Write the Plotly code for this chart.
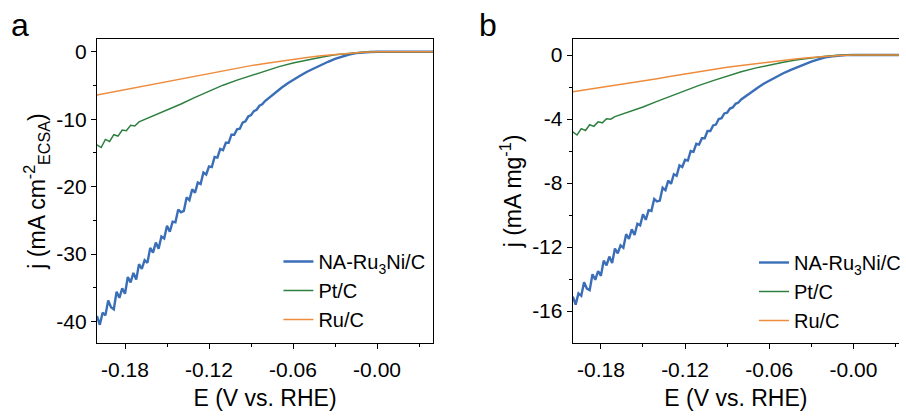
import plotly.graph_objects as go

# ---------------- data ----------------
names = ["NA-Ru<sub>3</sub>Ni/C", "Pt/C", "Ru/C"]
colors = ["#3a6fb8", "#2e8040", "#ee8c3e"]

# Blue (NA-Ru3Ni/C): noisy region then smooth tail
E_blue = [-0.200, -0.198, -0.196, -0.194, -0.192, -0.190, -0.188, -0.186, -0.184, -0.182,
          -0.180, -0.178, -0.176, -0.174, -0.172, -0.170, -0.168, -0.166, -0.164, -0.162,
          -0.160, -0.158, -0.156, -0.154, -0.152, -0.150, -0.148, -0.146, -0.144, -0.142,
          -0.140, -0.138, -0.136, -0.134, -0.132, -0.130, -0.128, -0.126, -0.124, -0.122,
          -0.120, -0.118, -0.116, -0.114, -0.112, -0.110, -0.108, -0.106, -0.104, -0.102,
          -0.100, -0.098, -0.096, -0.094, -0.092, -0.090, -0.088, -0.086, -0.084, -0.082,
          -0.080, -0.076, -0.072, -0.068, -0.064, -0.060, -0.055, -0.050, -0.045, -0.040,
          -0.035, -0.030, -0.025, -0.020, -0.015, -0.010, -0.005, 0.000, 0.01, 0.02, 0.03, 0.04]
ja_blue = [-39.2, -40.5, -38.7, -39.1, -36.9, -37.9, -38.2, -35.6, -36.5, -35.1,
           -35.9, -33.4, -34.2, -32.8, -33.8, -31.5, -32.2, -30.9, -31.3, -29.1,
           -29.8, -28.3, -29.2, -27.4, -27.7, -25.8, -26.7, -25.2, -25.3, -23.4,
           -23.8, -23.6, -21.6, -22.0, -20.4, -20.9, -19.4, -19.6, -17.9, -18.2,
           -17.0, -17.1, -15.6, -15.7, -14.4, -14.6, -13.5, -13.5, -12.3, -12.3,
           -11.5, -11.4, -10.5, -10.3, -9.6, -9.4, -8.8, -8.6, -8.0, -7.8,
           -7.3, -6.6, -5.95, -5.3, -4.7, -4.15, -3.55, -2.95, -2.43, -1.95,
           -1.48, -1.05, -0.7, -0.4, -0.2, -0.07, -0.02, 0.0, 0.0, 0.0, 0.0, 0.0]
jb_blue = [-15.1, -15.6, -14.9, -15.05, -14.2, -14.6, -14.7, -13.7, -14.05, -13.5,
           -13.8, -12.85, -13.15, -12.6, -13.0, -12.1, -12.4, -11.9, -12.05, -11.2,
           -11.5, -10.9, -11.25, -10.55, -10.65, -9.95, -10.3, -9.7, -9.75, -9.0,
           -9.15, -9.1, -8.3, -8.45, -7.85, -8.05, -7.45, -7.55, -6.9, -7.0,
           -6.55, -6.6, -6.0, -6.05, -5.55, -5.6, -5.2, -5.2, -4.75, -4.75,
           -4.4, -4.35, -4.0, -3.95, -3.65, -3.6, -3.35, -3.28, -3.05, -2.97,
           -2.78, -2.52, -2.27, -2.03, -1.8, -1.6, -1.37, -1.14, -0.94, -0.75,
           -0.57, -0.41, -0.27, -0.15, -0.08, -0.03, -0.01, 0.0, 0.0, 0.0, 0.0, 0.0]

# Green (Pt/C)
E_green = [-0.200, -0.197, -0.194, -0.191, -0.188, -0.185, -0.182, -0.179, -0.176, -0.173,
           -0.170, -0.16, -0.15, -0.14, -0.13, -0.12, -0.11, -0.10, -0.09, -0.08, -0.07,
           -0.06, -0.05, -0.04, -0.03, -0.02, -0.01, 0.00, 0.01, 0.02, 0.03, 0.04]
ja_green = [-13.8, -14.2, -13.0, -13.3, -12.3, -12.5, -11.6, -11.7, -10.9, -11.0,
            -10.4, -9.55, -8.65, -7.75, -6.75, -5.85, -4.95, -4.2, -3.5, -2.8, -2.2,
            -1.65, -1.2, -0.8, -0.45, -0.2, -0.05, 0.0, 0.0, 0.0, 0.0, 0.0]
jb_green = [-4.8, -5.0, -4.6, -4.72, -4.36, -4.46, -4.18, -4.24, -3.98, -4.01,
            -3.85, -3.55, -3.25, -2.9, -2.55, -2.2, -1.9, -1.6, -1.32, -1.05, -0.82,
            -0.62, -0.45, -0.3, -0.17, -0.08, -0.02, 0.0, 0.0, 0.0, 0.0, 0.0]

# Orange (Ru/C)
E_orange = [-0.20, -0.19, -0.18, -0.17, -0.16, -0.15, -0.14, -0.13, -0.12, -0.11, -0.10,
            -0.09, -0.08, -0.07, -0.06, -0.05, -0.04, -0.03, -0.02, -0.01, 0.00,
            0.01, 0.02, 0.03, 0.04]
ja_orange = [-6.4, -6.0, -5.6, -5.2, -4.85, -4.45, -4.05, -3.65, -3.25, -2.85, -2.45,
             -2.05, -1.72, -1.4, -1.1, -0.85, -0.6, -0.4, -0.22, -0.07, 0.0,
             0.0, 0.0, 0.0, 0.0]
jb_orange = [-2.3, -2.17, -2.03, -1.9, -1.77, -1.63, -1.48, -1.33, -1.18, -1.04, -0.9,
             -0.77, -0.65, -0.54, -0.44, -0.34, -0.24, -0.15, -0.08, -0.025, 0.0,
             0.0, 0.0, 0.0, 0.0]

x_tickvals = [-0.18, -0.12, -0.06, 0.0]
x_ticktext = ["-0.18", "-0.12", "-0.06", "-0.00"]
x_minor = [-0.15, -0.09, -0.03, 0.03]
ya_tickvals = [0, -10, -20, -30, -40]
ya_ticktext = ["0", "-10", "-20", "-30", "-40"]
ya_minor = [-5, -15, -25, -35]
yb_tickvals = [0, -4, -8, -12, -16]
yb_ticktext = ["0", "-4", "-8", "-12", "-16"]
yb_minor = [-2, -6, -10, -14]

# ---------------- figure ----------------
W, H = 906, 417
ML, MR, MT, MB = 97, 0, 39, 74
PW, PH = W - ML - MR, H - MT - MB
def px(x):
    return (x - ML) / PW
def py(y):
    return 1 - (y - MT) / PH

FONT = "Arial, Liberation Sans, sans-serif"
fig = go.Figure()

series_a = [(E_blue, ja_blue), (E_green, ja_green), (E_orange, ja_orange)]
series_b = [(E_blue, jb_blue), (E_green, jb_green), (E_orange, jb_orange)]
widths = [2.4, 1.5, 1.5]
for i, (xs, ys) in enumerate(series_a):
    fig.add_trace(go.Scatter(x=xs, y=ys, mode="lines", name=names[i],
                             line=dict(color=colors[i], width=widths[i]),
                             xaxis="x", yaxis="y", legend="legend"))
for i, (xs, ys) in enumerate(series_b):
    fig.add_trace(go.Scatter(x=xs, y=ys, mode="lines", name=names[i],
                             line=dict(color=colors[i], width=widths[i]),
                             xaxis="x2", yaxis="y2", legend="legend2"))

def xax(domain, rng):
    return dict(domain=domain, range=rng, showgrid=False, zeroline=False,
                showline=True, linecolor="black", linewidth=1.3, mirror=True,
                ticks="outside", ticklen=5, tickwidth=1.3, tickcolor="black",
                tickmode="array", tickvals=x_tickvals, ticktext=x_ticktext,
                ticklabelstandoff=3,
                minor=dict(tickmode="array", tickvals=x_minor, ticks="outside",
                           ticklen=3, tickwidth=1.3, tickcolor="black"),
                tickfont=dict(size=21, color="black", family=FONT),
                title=dict(text="E (V vs. RHE)", font=dict(size=23, color="black", family=FONT),
                           standoff=9))

def yax(domain, rng, tv, tt, mv, title, anchor, mirror):
    return dict(domain=domain, range=rng, anchor=anchor, showgrid=False, zeroline=False,
                showline=True, linecolor="black", linewidth=1.3, mirror=mirror,
                ticks="outside", ticklen=5, tickwidth=1.3, tickcolor="black",
                tickmode="array", tickvals=tv, ticktext=tt,
                minor=dict(tickmode="array", tickvals=mv, ticks="outside",
                           ticklen=3, tickwidth=1.3, tickcolor="black"),
                tickfont=dict(size=21, color="black", family=FONT),
                title=dict(text=title, font=dict(size=23, color="black", family=FONT),
                           standoff=4))

fig.update_layout(
    width=W, height=H,
    margin=dict(l=ML, r=MR, t=MT, b=MB, pad=0),
    paper_bgcolor="white", plot_bgcolor="white",
    font=dict(family=FONT, color="black"),
    xaxis=xax([0, px(436)], [-0.2, 0.04]) | dict(anchor="y"),
    yaxis=yax([0, 1], [-43.2, 1.9], ya_tickvals, ya_ticktext, ya_minor,
              "j (mA cm<sup>-2</sup><sub>ECSA</sub>)", "x", True),
    xaxis2=xax([px(577), 1], [-0.2, 0.0325]) | dict(anchor="y2"),
    yaxis2=yax([0, 1], [-18, 1], yb_tickvals, yb_ticktext, yb_minor,
               "j (mA mg<sup>-1</sup>)", "x2", False),
    legend=dict(x=px(280), y=py(242), xanchor="left", yanchor="top",
                bgcolor="rgba(0,0,0,0)", borderwidth=0, tracegroupgap=0,
                font=dict(size=20, color="black", family=FONT)),
    legend2=dict(x=px(760), y=py(243), xanchor="left", yanchor="top",
                 bgcolor="rgba(0,0,0,0)", borderwidth=0, tracegroupgap=0,
                 font=dict(size=20, color="black", family=FONT)),
    showlegend=True,
    annotations=[
        dict(text="a", x=px(19), y=py(25), xref="paper", yref="paper",
             xanchor="center", yanchor="middle", showarrow=False,
             font=dict(size=32, color="black", family=FONT)),
        dict(text="b", x=px(491), y=py(25), xref="paper", yref="paper",
             xanchor="center", yanchor="middle", showarrow=False,
             font=dict(size=32, color="black", family=FONT)),
    ],
)

fig.write_html("out.html")
